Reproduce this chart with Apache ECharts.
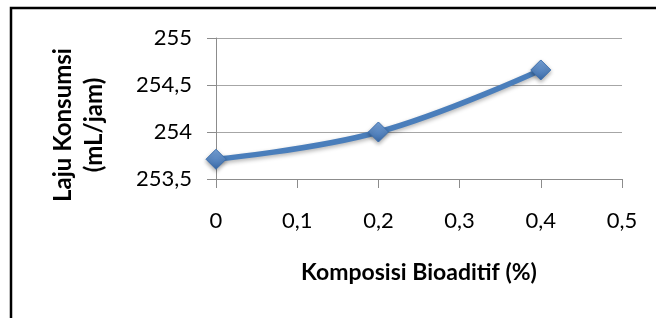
<!DOCTYPE html>
<html>
<head>
<meta charset="utf-8">
<script src="https://cdn.jsdelivr.net/npm/echarts@6/dist/echarts.min.js"></script>
<style>
  html, body { margin: 0; padding: 0; background: #fff; }
  #chart { width: 656px; height: 318px; }
</style>
</head>
<body>
<div id="chart"></div>
<script>
// data
const komposisi = [0, 0.2, 0.4];
const laju = [253.71, 254.0, 254.66];
const yTitle = ['Laju Konsumsi', '(mL/jam)'];
const xTitle = 'Komposisi Bioaditif (%)';

const font = 'Lato, "Open Sans", sans-serif';
const comma = v => String(+v.toFixed(1)).replace('.', ',');

const chart = echarts.init(document.getElementById('chart'));

chart.setOption({
    animation: false,
    grid: { left: 216, right: 34, top: 38, bottom: 139 },
    xAxis: {
        type: 'value',
        min: 0, max: 0.5, interval: 0.1,
        name: xTitle,
        nameLocation: 'middle',
        nameGap: 82,
        nameTextStyle: { fontFamily: font, fontSize: 23, fontWeight: 'bold', color: '#000' },
        axisLine: { show: true, lineStyle: { color: '#8c8c8c', width: 1 } },
        axisTick: { show: true, length: 9, lineStyle: { color: '#8c8c8c' } },
        splitLine: { show: false },
        axisLabel: { margin: 31, fontFamily: font, fontSize: 22, color: '#000', formatter: comma }
    },
    yAxis: {
        type: 'value',
        min: 253.5, max: 255, interval: 0.5,
        axisLine: { show: true, lineStyle: { color: '#8c8c8c', width: 1 } },
        axisTick: { show: true, length: 9, lineStyle: { color: '#8c8c8c' } },
        splitLine: { show: true, lineStyle: { color: '#a6a6a6', width: 1 } },
        axisLabel: { margin: 24, fontFamily: font, fontSize: 22, color: '#000', formatter: comma }
    },
    graphic: [
        {
            type: 'rect',
            shape: { x: 11, y: 8, width: 800, height: 500 },
            style: { fill: 'none', stroke: '#000', lineWidth: 2.5 },
            silent: true
        },
        {
            type: 'text',
            x: 79, y: 125,
            rotation: Math.PI / 2,
            style: {
                text: yTitle.join('\n'),
                font: 'bold 24px ' + font,
                lineHeight: 31,
                fill: '#000',
                align: 'center',
                verticalAlign: 'middle'
            }
        }
    ],
    series: [{
        type: 'line',
        data: komposisi.map((x, i) => [x, laju[i]]),
        smooth: 0.4,
        lineStyle: {
            color: '#4a7ebb', width: 5.5,
            shadowColor: 'rgba(0,0,0,0.3)', shadowBlur: 4, shadowOffsetY: 2
        },
        symbol: 'diamond',
        symbolSize: 20,
        itemStyle: {
            color: new echarts.graphic.LinearGradient(0, 0, 0, 1, [
                { offset: 0, color: '#7aa6dc' },
                { offset: 1, color: '#3a6aa8' }
            ]),
            borderColor: '#3c6fae', borderWidth: 1,
            shadowColor: 'rgba(0,0,0,0.35)', shadowBlur: 4, shadowOffsetY: 2
        }
    }]
});
</script>
</body>
</html>
